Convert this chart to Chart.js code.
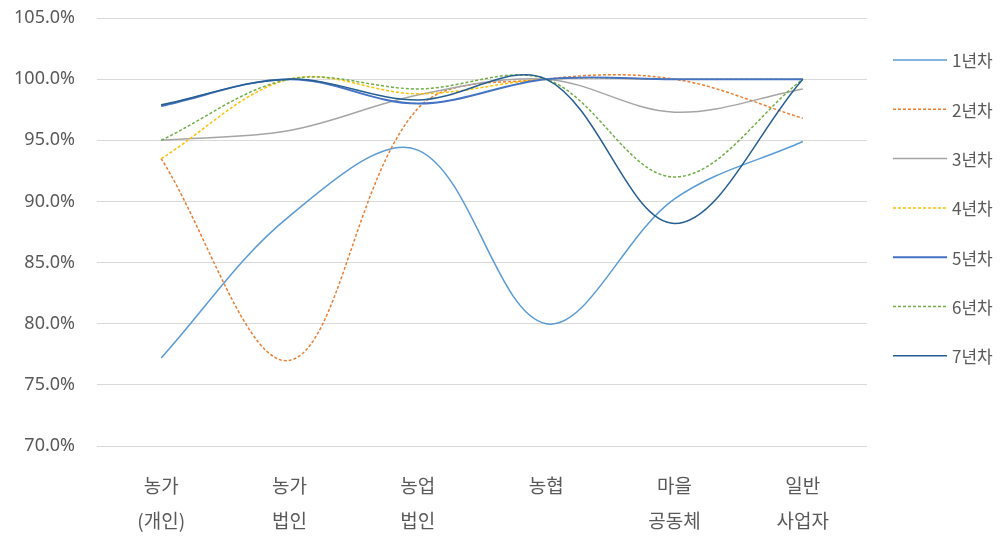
<!DOCTYPE html>
<html>
<head>
<meta charset="utf-8">
<script src="https://cdn.jsdelivr.net/npm/chart.js@4.4.1/dist/chart.umd.min.js"></script>
<style>
    html, body { margin: 0; padding: 0; background: #fff; }
    #wrap { width: 1002px; height: 536px; position: relative; }
</style>
</head>
<body>
<div id="wrap"><canvas id="chart"></canvas></div>
<script>
// 구분별 연차 비율 (%)
const categories = [["농가", "(개인)"], ["농가", "법인"], ["농업", "법인"], ["농협", ""], ["마을", "공동체"], ["일반", "사업자"]];
const seriesNames = ["1년차", "2년차", "3년차", "4년차", "5년차", "6년차", "7년차"];

const year1 = [77.2, 88.8, 94.2, 80.0, 90.2, 94.9];
const year2 = [93.5, 77.0, 97.6, 100.0, 100.0, 96.8];
const year3 = [95.0, 95.8, 98.7, 100.0, 97.3, 99.2];
const year4 = [93.5, 100.0, 98.8, 100.0, 100.0, 100.0];
const year5 = [97.8, 100.0, 98.0, 100.0, 100.0, 100.0];
const year6 = [95.0, 100.0, 99.2, 100.0, 92.0, 100.0];
const year7 = [97.9, 100.0, 98.3, 100.0, 88.2, 100.0];

const yTicks = [70, 75, 80, 85, 90, 95, 100, 105];

const allValues = [year1, year2, year3, year4, year5, year6, year7];
const colors = ["#5B9BD5", "#ED7D31", "#A5A5A5", "#FFC000", "#4472C4", "#70AD47", "#255E91"];
const widths = [1.5, 1.5, 1.5, 1.5, 2, 1.5, 1.5];
const dashed = [false, true, false, true, false, true, false];

const FONT = "'Noto Sans CJK KR', 'Noto Sans', sans-serif";
const NUM_FONT = "'Noto Sans', 'Noto Sans CJK KR', sans-serif";
const TEXT_COLOR = "#595959";

// 범례 (선 모양 그대로)
const lineLegend = {
    id: "lineLegend",
    afterDraw(chart) {
        const ctx = chart.ctx;
        ctx.save();
        chart.data.datasets.forEach(function(ds, i) {
            let y = 60 + i * 49.3;
            ctx.beginPath();
            ctx.strokeStyle = ds.borderColor;
            ctx.lineWidth = ds.borderWidth;
            ctx.setLineDash(ds.borderDash || []);
            ctx.moveTo(893, y);
            ctx.lineTo(947, y);
            ctx.stroke();
            ctx.setLineDash([]);
            ctx.fillStyle = TEXT_COLOR;
            ctx.font = "17px " + FONT;
            ctx.textBaseline = "middle";
            ctx.textAlign = "left";
            ctx.fillText(ds.label, 952, y + 1);
        });
        ctx.restore();
    }
};

const datasets = allValues.map(function(values, i) {
    return {
        label: seriesNames[i],
        data: values,
        borderColor: colors[i],
        backgroundColor: colors[i],
        borderWidth: widths[i],
        borderDash: dashed[i] ? [3, 2] : [],
        pointRadius: 0,
        tension: 0.35,
        fill: false,
        order: allValues.length - i
    };
});

new Chart(document.getElementById("chart"), {
    type: "line",
    data: { labels: categories, datasets: datasets },
    options: {
        responsive: true,
        maintainAspectRatio: false,
        animation: false,
        layout: { padding: { top: 18, right: 135, left: 0, bottom: 0 } },
        plugins: {
            legend: { display: false },
            tooltip: { enabled: false }
        },
        scales: {
            x: {
                offset: true,
                grid: { display: false, drawTicks: false },
                border: { display: false },
                ticks: {
                    color: TEXT_COLOR,
                    font: { family: FONT, size: 19, lineHeight: 1.84 },
                    padding: 22,
                    maxRotation: 0,
                    autoSkip: false
                },
                afterFit: function(scale) { scale.height = 90; }
            },
            y: {
                min: 70,
                max: 105,
                afterBuildTicks: function(scale) {
                    scale.ticks = yTicks.map(function(v) { return { value: v }; });
                },
                grid: { color: "#D9D9D9", lineWidth: 1, drawTicks: false },
                border: { display: false },
                ticks: {
                    color: TEXT_COLOR,
                    font: { family: NUM_FONT, size: 18 },
                    padding: 22,
                    callback: function(v) { return v.toFixed(1) + "%"; }
                },
                afterFit: function(scale) {
                    scale.width = 97;
                    scale.paddingTop = 0;
                    scale.paddingBottom = 0;
                }
            }
        }
    },
    plugins: [lineLegend]
});
</script>
</body>
</html>
